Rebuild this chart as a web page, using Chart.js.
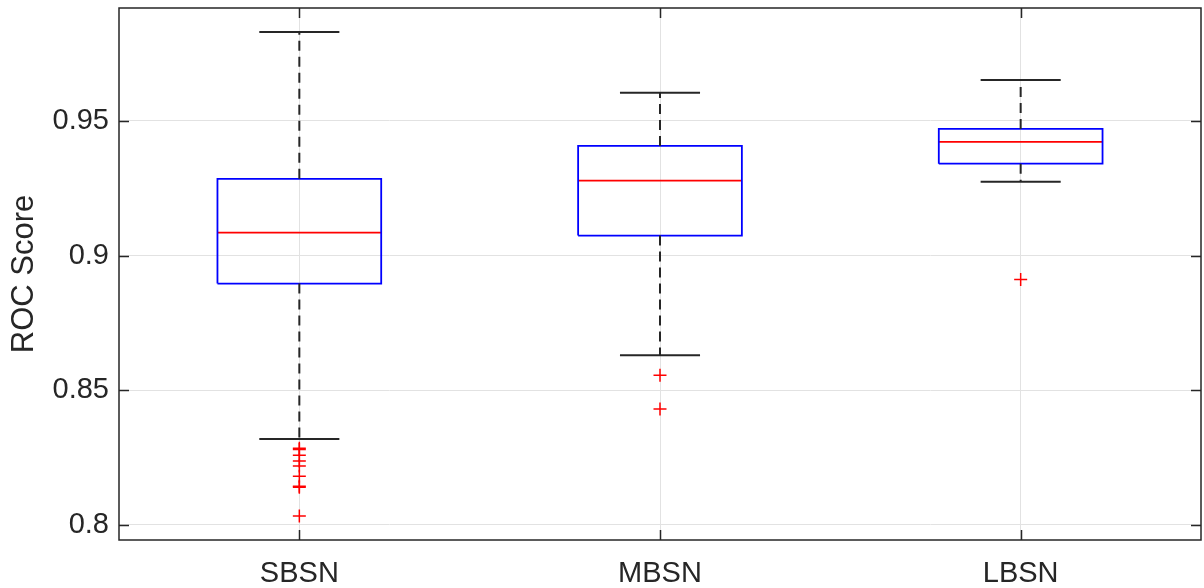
<!DOCTYPE html>
<html>
<head>
<meta charset="utf-8">
<script src="https://cdn.jsdelivr.net/npm/chart.js@4/dist/chart.umd.min.js"></script>
<style>
    html, body { margin: 0; padding: 0; background: #fff; overflow: hidden; }
    canvas { display: block; }
</style>
</head>
<body>
<canvas id="chart" width="1204" height="588"></canvas>
<script>
// box plot summary
const categories = ['SBSN', 'MBSN', 'LBSN'];
const whiskerLow = [0.8319, 0.8630, 0.9274];
const q1 = [0.8896, 0.9074, 0.9341];
const median = [0.9085, 0.9278, 0.9422];
const q3 = [0.9285, 0.9407, 0.9470];
const whiskerHigh = [0.9830, 0.9604, 0.9652];
const outliers = [
    [0.8285, 0.8280, 0.8259, 0.8237, 0.8219, 0.8181, 0.8144, 0.8140, 0.8033],
    [0.8556, 0.8430],
    [0.8911]
];
const yTicks = [0.8, 0.85, 0.9, 0.95];
const yMin = 0.7944;
const yMax = 0.9919;

const BOX_HALF = 0.227;
const CAP_HALF = 0.111;
const textColor = '#262626';
const font = 'Liberation Sans, Arial, Helvetica, sans-serif';

function seg(points, color, width, dash) {
    return {
        data: points,
        showLine: true,
        borderColor: color,
        borderWidth: width,
        borderDash: dash || [],
        pointRadius: 0,
        fill: false,
        tension: 0
    };
}

const datasets = [];
categories.forEach((name, i) => {
    const x = i + 1;
    // dashed whiskers
    datasets.push(seg([{ x: x, y: q3[i] }, { x: x, y: whiskerHigh[i] }], '#262626', 2, [10, 6]));
    datasets.push(seg([{ x: x, y: q1[i] }, { x: x, y: whiskerLow[i] }], '#262626', 2, [10, 6]));
    // caps
    datasets.push(seg([{ x: x - CAP_HALF, y: whiskerHigh[i] }, { x: x + CAP_HALF, y: whiskerHigh[i] }], '#262626', 2));
    datasets.push(seg([{ x: x - CAP_HALF, y: whiskerLow[i] }, { x: x + CAP_HALF, y: whiskerLow[i] }], '#262626', 2));
    // box
    datasets.push(seg([
        { x: x - BOX_HALF, y: q1[i] },
        { x: x + BOX_HALF, y: q1[i] },
        { x: x + BOX_HALF, y: q3[i] },
        { x: x - BOX_HALF, y: q3[i] },
        { x: x - BOX_HALF, y: q1[i] }
    ], '#0000ff', 1.8));
    // median
    datasets.push(seg([{ x: x - BOX_HALF, y: median[i] }, { x: x + BOX_HALF, y: median[i] }], '#ff0000', 1.8));
    // outliers
    datasets.push({
        data: outliers[i].map(v => ({ x: x, y: v })),
        showLine: false,
        pointStyle: 'cross',
        pointRadius: 6.5,
        borderColor: '#ff0000',
        borderWidth: 1.5
    });
});

const boxFrame = {
    id: 'boxFrame',
    afterDraw(chart) {
        const { ctx, chartArea: a, scales } = chart;
        ctx.save();
        ctx.strokeStyle = textColor;
        ctx.lineWidth = 1.5;
        ctx.beginPath();
        yTicks.forEach(v => {
            const y = Math.round(scales.y.getPixelForValue(v)) + 0.5;
            ctx.moveTo(a.left, y); ctx.lineTo(a.left + 10, y);
            ctx.moveTo(a.right, y); ctx.lineTo(a.right - 10, y);
        });
        categories.forEach((c, i) => {
            const x = Math.round(scales.x.getPixelForValue(i + 1)) + 0.5;
            ctx.moveTo(x, a.bottom); ctx.lineTo(x, a.bottom - 10);
            ctx.moveTo(x, a.top); ctx.lineTo(x, a.top + 10);
        });
        ctx.stroke();
        ctx.strokeRect(a.left, a.top, a.right - a.left, a.bottom - a.top);
        ctx.restore();
    }
};

new Chart(document.getElementById('chart'), {
    type: 'scatter',
    data: { datasets: datasets },
    plugins: [boxFrame],
    options: {
        responsive: false,
        animation: false,
        layout: { autoPadding: false, padding: { top: 8, right: 3, left: 0, bottom: 0 } },
        plugins: {
            legend: { display: false },
            tooltip: { enabled: false }
        },
        scales: {
            x: {
                type: 'linear',
                min: 0.5,
                max: 3.5,
                afterBuildTicks: (scale) => {
                    scale.ticks = categories.map((c, i) => ({ value: i + 1 }));
                },
                afterFit: (scale) => {
                    scale.height = 48;
                    scale.paddingLeft = 0;
                    scale.paddingRight = 0;
                },
                border: { display: false },
                grid: { color: '#e2e2e2', lineWidth: 1, drawTicks: false },
                ticks: {
                    color: textColor,
                    padding: 17,
                    maxRotation: 0,
                    font: { family: font, size: 29 },
                    callback: (v) => categories[v - 1]
                }
            },
            y: {
                min: yMin,
                max: yMax,
                afterBuildTicks: (scale) => {
                    scale.ticks = yTicks.map(v => ({ value: v }));
                },
                afterFit: (scale) => {
                    scale.width = 119;
                    scale.paddingTop = 0;
                    scale.paddingBottom = 0;
                },
                border: { display: false },
                grid: { color: '#e2e2e2', lineWidth: 1, drawTicks: false },
                title: {
                    display: true,
                    text: 'ROC Score',
                    color: textColor,
                    padding: { top: 6, bottom: 0 },
                    font: { family: font, size: 31 }
                },
                ticks: {
                    color: textColor,
                    padding: 10,
                    font: { family: font, size: 29 },
                    callback: (v) => String(v)
                }
            }
        }
    }
});
</script>
</body>
</html>
